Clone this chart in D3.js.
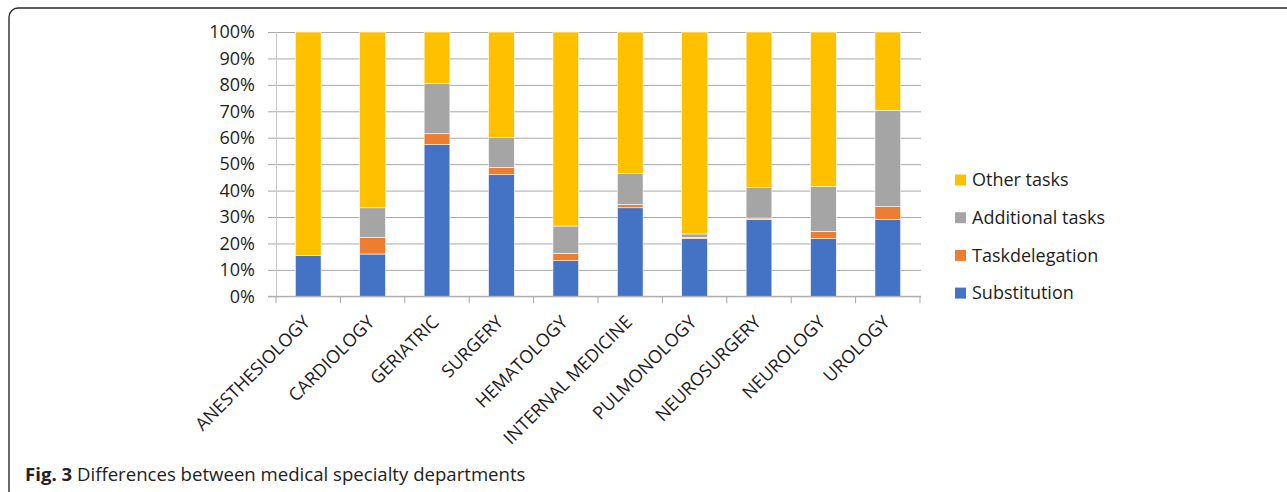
<!DOCTYPE html>
<html>
<head>
<meta charset="utf-8">
<script src="https://cdn.jsdelivr.net/npm/d3@7"></script>
<style>
  body { margin: 0; background: #fff; }
  text { font-family: "Open Sans", sans-serif; }
</style>
</head>
<body>
<div id="wrapper"></div>
<script>
// data (shares of tasks per department)
const departments = ["ANESTHESIOLOGY", "CARDIOLOGY", "GERIATRIC", "SURGERY", "HEMATOLOGY",
  "INTERNAL MEDICINE", "PULMONOLOGY", "NEUROSURGERY", "NEUROLOGY", "UROLOGY"]
const substitution   = [15.4, 16.0, 57.4, 46.0, 13.5, 33.5, 21.8, 29.1, 21.8, 29.1]
const taskdelegation = [0.0, 6.2, 4.1, 2.7, 2.8, 1.2, 0.5, 0.5, 2.8, 4.8]
const additionalTasks = [0.0, 11.3, 19.1, 11.3, 10.3, 11.8, 1.3, 11.5, 16.9, 36.5]
const otherTasks     = [84.6, 66.5, 19.4, 40.0, 73.4, 53.5, 76.4, 58.9, 58.5, 29.6]
const seriesNames = ["Substitution", "Taskdelegation", "Additional tasks", "Other tasks"]
const yTicks = [0, 10, 20, 30, 40, 50, 60, 70, 80, 90, 100]

const colors = {
  "Substitution": "#4472C4",
  "Taskdelegation": "#ED7D31",
  "Additional tasks": "#A5A5A5",
  "Other tasks": "#FFC000",
}

const rows = departments.map((d, i) => ({
  dept: d,
  "Substitution": substitution[i],
  "Taskdelegation": taskdelegation[i],
  "Additional tasks": additionalTasks[i],
  "Other tasks": otherTasks[i],
}))

const dimensions = {
  width: 1287,
  height: 492,
  plotLeft: 276,
  plotRight: 920,
  plotTop: 32,
  plotBottom: 296.3,
}

const svg = d3.select("#wrapper")
  .append("svg")
    .attr("width", dimensions.width)
    .attr("height", dimensions.height)

// frame round the figure (bottom and right edges fall outside the picture)
svg.append("rect")
    .attr("x", 9)
    .attr("y", 8)
    .attr("width", 1300)
    .attr("height", 492)
    .attr("rx", 9)
    .attr("fill", "none")
    .attr("stroke", "#2b2b2b")
    .attr("stroke-width", 1.4)

const xScale = d3.scaleBand()
  .domain(departments)
  .range([dimensions.plotLeft, dimensions.plotRight])
  .paddingInner(0.6)
  .paddingOuter(0.3)

const yScale = d3.scaleLinear()
  .domain([0, 100])
  .range([dimensions.plotBottom, dimensions.plotTop])

// gridlines
const gridGenerator = d3.axisRight(yScale)
  .tickValues(yTicks)
  .tickSize(dimensions.plotRight + 1 - 268)
  .tickFormat("")
const grid = svg.append("g")
  .attr("transform", `translate(268,0)`)
  .call(gridGenerator)
grid.select(".domain").remove()
grid.selectAll("line").attr("stroke", "#a9a9a9").attr("stroke-width", 1)

// y axis labels
const yAxisGenerator = d3.axisLeft(yScale)
  .tickValues(yTicks)
  .tickSize(0)
  .tickPadding(21)
  .tickFormat(d => d + "%")
const yAxis = svg.append("g")
  .attr("transform", `translate(${dimensions.plotLeft},0)`)
  .call(yAxisGenerator)
yAxis.select(".domain").attr("stroke", "#c8c8c8")
yAxis.selectAll("text")
  .attr("font-size", 18)
  .attr("fill", "#1e1e1e")

// stacked bars
const stacked = d3.stack().keys(seriesNames)(rows)
svg.append("g")
  .selectAll("g")
  .data(stacked)
  .join("g")
    .attr("fill", d => colors[d.key])
  .selectAll("rect")
  .data(d => d)
  .join("rect")
    .attr("x", d => xScale(d.data.dept))
    .attr("width", xScale.bandwidth())
    .attr("y", d => yScale(d[1]))
    .attr("height", d => yScale(d[0]) - yScale(d[1]))
    .attr("stroke", "#fff")
    .attr("stroke-width", 0.6)

// x axis: line and ticks between categories
const step = xScale.step()
const boundaries = d3.range(departments.length + 1)
  .map(i => dimensions.plotLeft + i * step)
svg.append("line")
    .attr("x1", 268)
    .attr("x2", dimensions.plotRight + 1)
    .attr("y1", dimensions.plotBottom)
    .attr("y2", dimensions.plotBottom)
    .attr("stroke", "#a9a9a9")
svg.append("g")
  .selectAll("line")
  .data(boundaries)
  .join("line")
    .attr("x1", d => d)
    .attr("x2", d => d)
    .attr("y1", dimensions.plotBottom)
    .attr("y2", dimensions.plotBottom + 7)
    .attr("stroke", "#a9a9a9")

svg.append("g")
  .selectAll("text")
  .data(departments)
  .join("text")
    .attr("transform", d => `translate(${xScale(d) + xScale.bandwidth() / 2 + 3},${dimensions.plotBottom + 27}) rotate(-45)`)
    .attr("text-anchor", "end")
    .attr("font-size", 18)
    .attr("fill", "#1e1e1e")
    .text(d => d)

// legend
const legendOrder = ["Other tasks", "Additional tasks", "Taskdelegation", "Substitution"]
const legend = svg.append("g")
  .attr("transform", "translate(955,180)")
const legendItem = legend.selectAll("g")
  .data(legendOrder)
  .join("g")
    .attr("transform", (d, i) => `translate(0,${i * 37.7})`)
legendItem.append("rect")
    .attr("y", -5.5)
    .attr("width", 11)
    .attr("height", 11)
    .attr("fill", d => colors[d])
legendItem.append("text")
    .attr("x", 17)
    .attr("dy", "0.35em")
    .attr("font-size", 18)
    .attr("fill", "#1e1e1e")
    .text(d => d)

// caption
const caption = svg.append("text")
    .attr("x", 25)
    .attr("y", 481)
    .attr("font-size", 18.6)
    .attr("fill", "#222")
caption.append("tspan").attr("font-weight", "bold").text("Fig. 3")
caption.append("tspan").text(" Differences between medical specialty departments")
</script>
</body>
</html>
